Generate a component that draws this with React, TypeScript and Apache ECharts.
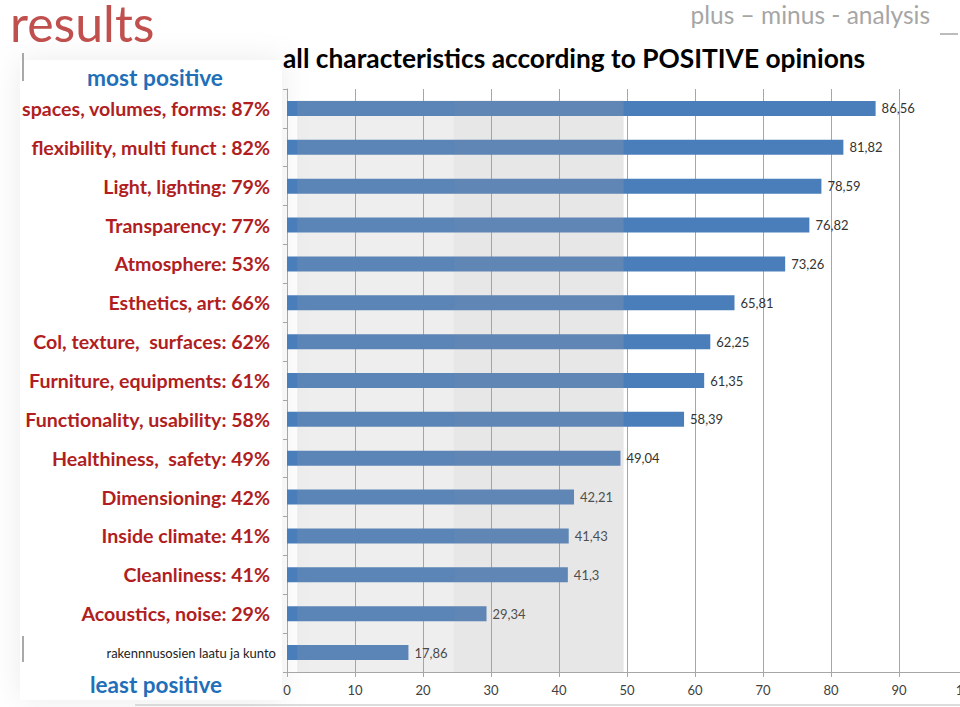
import React, { useEffect, useRef } from "react";
import * as echarts from "echarts";

const categories = [
  "spaces, volumes, forms: 87%",
  "flexibility, multi funct : 82%",
  "Light, lighting: 79%",
  "Transparency: 77%",
  "Atmosphere: 53%",
  "Esthetics, art: 66%",
  "Col, texture,  surfaces: 62%",
  "Furniture, equipments: 61%",
  "Functionality, usability: 58%",
  "Healthiness,  safety: 49%",
  "Dimensioning: 42%",
  "Inside climate: 41%",
  "Cleanliness: 41%",
  "Acoustics, noise: 29%",
  "rakennnusosien laatu ja kunto",
];
const values = [86.56, 81.82, 78.59, 76.82, 73.26, 65.81, 62.25, 61.35, 58.39, 49.04, 42.21, 41.43, 41.3, 29.34, 17.86];
const xTicks = [0, 10, 20, 30, 40, 50, 60, 70, 80, 90, 100];
const overlayRanges = [
  [1.5, 24.5],
  [24.5, 49.5],
];

const FONT = "Lato, 'Open Sans', sans-serif";

export default function App() {
  const ref = useRef<HTMLDivElement>(null);
  useEffect(() => {
    if (!ref.current) return;
    const chart = echarts.init(ref.current, null, { renderer: "svg" });
    const option: any = {
      animation: false,
      backgroundColor: "#ffffff",
      textStyle: { fontFamily: FONT },
      grid: {
        left: 287,
        width: 680,
        top: 89,
        bottom: 35,
        containLabel: false,
        outerBoundsMode: "none",
      },
      xAxis: {
        type: "value",
        min: xTicks[0],
        max: xTicks[xTicks.length - 1],
        interval: 10,
        axisLine: { show: true, lineStyle: { color: "#a6a6a6" } },
        axisTick: { show: true, length: 5, lineStyle: { color: "#a6a6a6" } },
        splitLine: { show: true, lineStyle: { color: "#a6a6a6", width: 1 } },
        axisLabel: { color: "#404040", fontSize: 13, margin: 11, fontFamily: FONT },
      },
      yAxis: {
        type: "category",
        data: categories,
        inverse: true,
        axisLine: { show: true, lineStyle: { color: "#a6a6a6" } },
        axisTick: { show: true, length: 4, lineStyle: { color: "#a6a6a6" } },
        axisLabel: {
          margin: 11,
          formatter: (v: string, i: number) =>
            i === categories.length - 1 ? `{s|${v}}` : `{r|${v}}`,
          rich: {
            r: {
              color: "#b01e22",
              fontSize: 19.6,
              fontWeight: "bold",
              fontFamily: FONT,
              padding: [0, 6, 0, 0],
            },
            s: { color: "#222222", fontSize: 13, fontFamily: FONT },
          },
        },
      },
      series: [
        {
          type: "bar",
          data: values,
          barWidth: 15,
          itemStyle: { color: "#4a7ebb" },
          label: {
            show: true,
            position: "right",
            distance: 6,
            color: "#333333",
            fontSize: 13,
            fontFamily: FONT,
            formatter: (p: any) => String(p.value).replace(".", ","),
          },
        },
      ],
    };
    chart.setOption(option);

    const topY = (chart.convertToPixel({ yAxisIndex: 0 }, 0) as number) - 8;
    const gridBottom = 707 - 35;
    const overlays = overlayRanges.map((r, i) => {
      const x0 = chart.convertToPixel({ xAxisIndex: 0 }, r[0]) as number;
      const x1 = chart.convertToPixel({ xAxisIndex: 0 }, r[1]) as number;
      return {
        type: "rect",
        z: 100,
        shape: { x: x0, y: topY, width: x1 - x0, height: gridBottom - topY },
        style: { fill: i === 0 ? "rgba(165,165,165,0.19)" : "rgba(160,160,160,0.25)" },
      };
    });

    chart.setOption({
      graphic: [
        {
          type: "rect",
          z: -10,
          shape: { x: 20, y: 60, width: 262, height: 640 },
          style: { fill: "#ffffff", shadowColor: "rgba(0,0,0,0.08)", shadowBlur: 30 },
        },
        ...overlays,
        {
          type: "text",
          x: 10,
          y: 23,
          style: {
            text: "results",
            fill: "#c0504d",
            font: `50px ${FONT}`,
            verticalAlign: "middle",
            lineHeight: 46,
          },
        },
        {
          type: "text",
          x: 930,
          y: 14,
          style: {
            text: "plus – minus - analysis",
            fill: "#a6a6a6",
            font: `24.5px ${FONT}`,
            align: "right",
            verticalAlign: "middle",
            lineHeight: 26,
          },
        },
        {
          type: "line",
          shape: { x1: 940, y1: 34, x2: 958, y2: 34 },
          style: { stroke: "#a6a6a6", lineWidth: 1.5 },
        },
        {
          type: "text",
          left: 283,
          top: 45,
          style: {
            text: "all characteristics according to POSITIVE opinions",
            fill: "#000000",
            font: `bold 26.3px ${FONT}`,
          },
        },
        {
          type: "text",
          x: 155,
          y: 77,
          style: {
            text: "most positive",
            fill: "#1f70b8",
            font: `bold 22.7px ${FONT}`,
            align: "center",
            verticalAlign: "middle",
          },
        },
        {
          type: "text",
          x: 156,
          y: 684,
          style: {
            text: "least positive",
            fill: "#1f70b8",
            font: `bold 22.5px ${FONT}`,
            align: "center",
            verticalAlign: "middle",
          },
        },
        {
          type: "line",
          shape: { x1: 23, y1: 53, x2: 23, y2: 81 },
          style: { stroke: "#8c8c8c", lineWidth: 1.5 },
        },
        {
          type: "line",
          shape: { x1: 23, y1: 636, x2: 23, y2: 662 },
          style: { stroke: "#8c8c8c", lineWidth: 1.5 },
        },
        {
          type: "line",
          shape: { x1: 135, y1: 705, x2: 960, y2: 705 },
          style: { stroke: "#d0d0d0", lineWidth: 1.5 },
        },
      ],
    });

    return () => chart.dispose();
  }, []);
  return (
    <div
      ref={ref}
      style={{ position: "fixed", left: 0, top: 0, width: 960, height: 707 }}
    />
  );
}
